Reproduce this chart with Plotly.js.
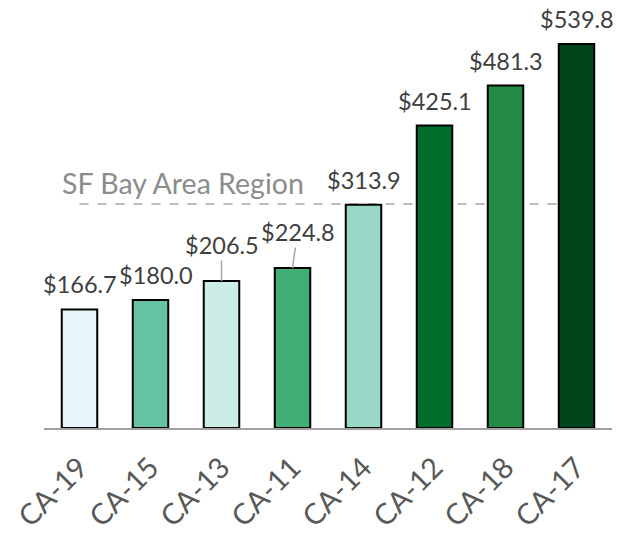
<!DOCTYPE html>
<html>
<head>
<meta charset="utf-8">
<script src="https://cdn.plot.ly/plotly-3.0.1.min.js"></script>
<style>html,body{margin:0;padding:0;background:#fff;}#chart{width:629px;height:540px;}</style>
</head>
<body>
<div id="chart"></div>
<script>
const categories = ["CA-19", "CA-15", "CA-13", "CA-11", "CA-14", "CA-12", "CA-18", "CA-17"];
const values = [166.7, 180.0, 206.5, 224.8, 313.9, 425.1, 481.3, 539.8];
const valueLabels = ["$166.7", "$180.0", "$206.5", "$224.8", "$313.9", "$425.1", "$481.3", "$539.8"];
const barColors = ["#E5F5F9", "#66C2A4", "#CCECE6", "#41AE76", "#99D8C9", "#006D2C", "#238B45", "#00441B"];
const regionLabel = "SF Bay Area Region";
const regionValue = 315;

const FONT = "Lato, 'Open Sans', sans-serif";

const trace = {
  type: "bar",
  x: categories,
  y: values,
  width: 0.5,
  marker: { color: barColors, line: { color: "#000000", width: 2 } },
  hoverinfo: "none"
};

const xs = [0, 5, 0, 5, 0, 0, 0, 0];
const leader = [false, false, true, true, false, false, false, false];
const annotations = categories.map((c, i) => {
  if (leader[i]) {
    return {
      x: c, y: values[i], xref: "x", yref: "y",
      text: valueLabels[i], showarrow: true, arrowhead: 0, arrowwidth: 1.5,
      arrowcolor: "#a6a6a6", ax: xs[i], ay: -36, standoff: 0,
      font: { family: FONT, size: 23.5, color: "#404040" }
    };
  }
  return {
    x: c, y: values[i], xref: "x", yref: "y",
    text: valueLabels[i], showarrow: false,
    xanchor: "center", yanchor: "middle", xshift: xs[i], yshift: 25,
    font: { family: FONT, size: 23.5, color: "#404040" }
  };
});
annotations.push({
  x: categories[0], y: regionValue, xref: "x", yref: "y",
  text: regionLabel, showarrow: false, xanchor: "left", yanchor: "middle",
  xshift: -20, yshift: 21,
  font: { family: FONT, size: 28.5, color: "#8c8c8c" }
});

const layout = {
  width: 629, height: 540,
  margin: { l: 44, r: 17, t: 1, b: 112 },
  paper_bgcolor: "#ffffff", plot_bgcolor: "#ffffff",
  showlegend: false,
  xaxis: {
    type: "category", range: [-0.5, 7.5],
    showline: true, linecolor: "#a0a0a0", linewidth: 2,
    ticks: "", showgrid: false, zeroline: false,
    tickangle: -45, ticklabelstandoff: 9, automargin: false,
    tickfont: { family: FONT, size: 29, color: "#595959" }
  },
  yaxis: {
    range: [0, 600.2], visible: false, showgrid: false, zeroline: false, fixedrange: true
  },
  shapes: [{
    type: "line", xref: "x", yref: "y",
    x0: categories[0], x1: categories[categories.length - 1], y0: regionValue, y1: regionValue,
    line: { color: "#a6a6a6", width: 1.5, dash: "dash" },
    layer: "below"
  }],
  annotations: annotations
};

Plotly.newPlot("chart", [trace], layout, { displayModeBar: false, staticPlot: true });
</script>
</body>
</html>
